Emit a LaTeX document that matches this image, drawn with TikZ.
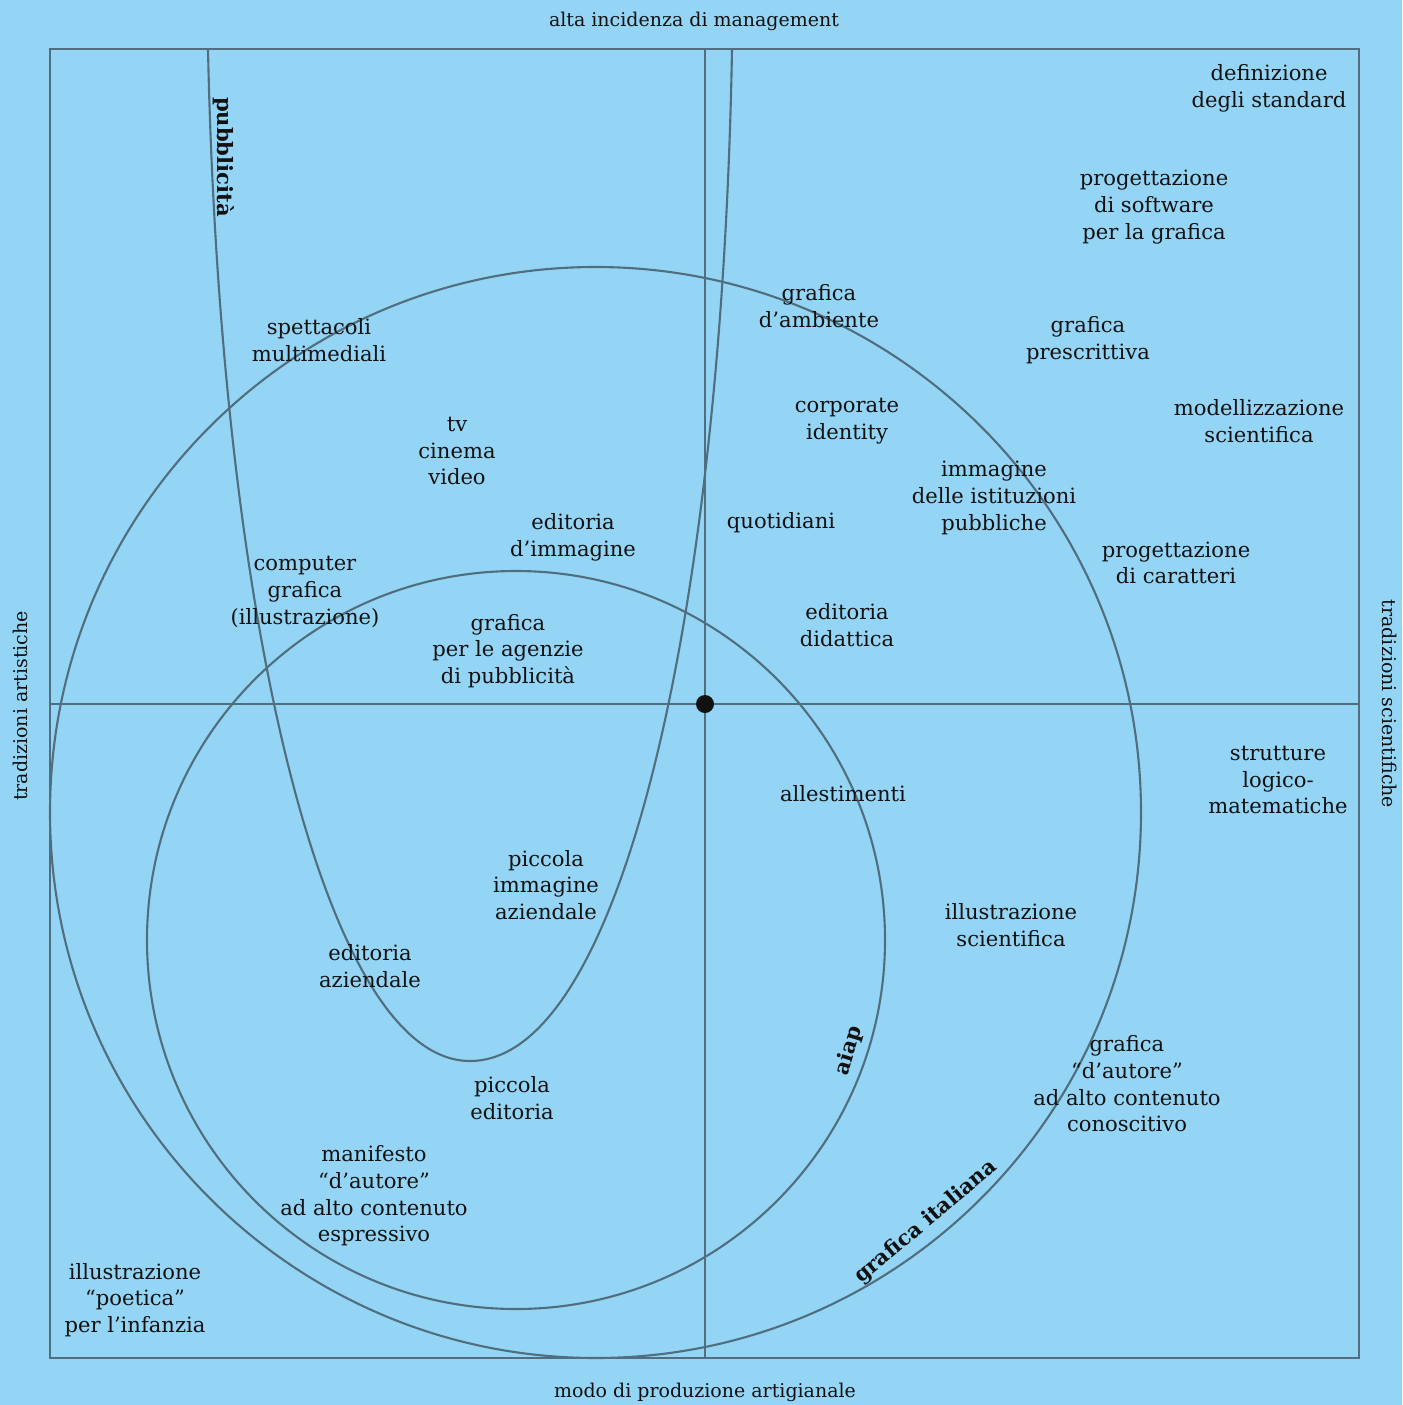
\documentclass[tikz,border=0pt]{standalone}
\usepackage{fontspec}
\setmainfont{DejaVu Serif}
\definecolor{sky}{HTML}{94D5F5}
\definecolor{slate}{HTML}{506E7D}
\definecolor{ink}{HTML}{111111}

\begin{document}
\begin{tikzpicture}[x=0.025cm, y=-0.025cm]
    \fill[sky] (0,0) rectangle (1402,1405);
    \useasboundingbox (0,0) rectangle (1402,1405);

    \begin{scope}[draw=slate, line width=1.5pt]
        \draw (50,49) rectangle (1359,1358);
        \draw (50,704) -- (1359,704);
        \draw (705,49) -- (705,1358);
        \draw (595.5,812.5) circle[radius=545.5];  % grafica italiana
        \draw (516,940) circle[radius=369];        % aiap
        \draw (208,49) .. controls (220,620) and (325,1061) .. (470,1061)
              .. controls (620,1061) and (722,620) .. (732,49);  % pubblicita
    \end{scope}

    \node[circle, fill=ink, inner sep=0pt, minimum size=0.45cm] (O) at (705,704) {};

    % axes
    \begin{scope}[every node/.style={text=ink, inner sep=0pt, font=\fontsize{13.5}{18}\selectfont}]
        \node (T_N) at (694,21) {alta incidenza di management};
        \node (T_S) at (705,1392) {modo di produzione artigianale};
        \node[rotate=90] (T_W) at (20,706) {tradizioni artistiche};
        \node[rotate=-90] (T_E) at (1390,704) {tradizioni scientifiche};
    \end{scope}

    % fields
    \begin{scope}[every node/.style={text=ink, align=center, inner sep=0pt, font=\fontsize{15}{19}\selectfont}]
        \node (NE_1) at (1269,88) {definizione\\degli standard};
        \node (NE_2) at (1154,207) {progettazione\\di software\\per la grafica};
        \node (NE_3) at (1088,340) {grafica\\prescrittiva};
        \node (NE_4) at (1259,421) {modellizzazione\\scientifica};
        \node (NE_5) at (819,306) {grafica\\d’ambiente};
        \node (NE_6) at (847,421) {corporate\\identity};
        \node (NE_7) at (994,498) {immagine\\delle istituzioni\\pubbliche};
        \node (NE_8) at (781,523) {quotidiani};
        \node (NE_9) at (1176,563) {progettazione\\di caratteri};
        \node (NE_10) at (847,625) {editoria\\didattica};

        \node (NW_1) at (319,340) {spettacoli\\multimediali};
        \node (NW_2) at (457,451) {tv\\cinema\\video};
        \node (NW_3) at (573,537) {editoria\\d’immagine};
        \node (NW_4) at (305,592) {computer\\grafica\\(illustrazione)};
        \node (NW_5) at (508,651) {grafica\\per le agenzie\\di pubblicità};

        \node (SE_1) at (1278,780) {strutture\\logico-\\matematiche};
        \node (SE_2) at (843,794) {allestimenti};
        \node (SE_3) at (1011,925) {illustrazione\\scientifica};
        \node (SE_4) at (1127,1084) {grafica\\“d’autore”\\ad alto contenuto\\conoscitivo};

        \node (SW_1) at (546,885) {piccola\\immagine\\aziendale};
        \node (SW_2) at (370,966) {editoria\\aziendale};
        \node (SW_3) at (512,1098) {piccola\\editoria};
        \node (SW_4) at (374,1196) {manifesto\\“d’autore”\\ad alto contenuto\\espressivo};
        \node (SW_5) at (135,1300) {illustrazione\\“poetica”\\per l’infanzia};
    \end{scope}

    % curve names
    \begin{scope}[every node/.style={text=ink, inner sep=0pt, font=\fontsize{15}{19}\selectfont\bfseries}]
        \node[rotate=-90] (C_pub) at (224,157) {pubblicità};
        \node[rotate=73] (C_aiap) at (849,1051) {aiap};
        \node[rotate=40] (C_ita) at (926,1222) {grafica italiana};
    \end{scope}
\end{tikzpicture}
\end{document}
